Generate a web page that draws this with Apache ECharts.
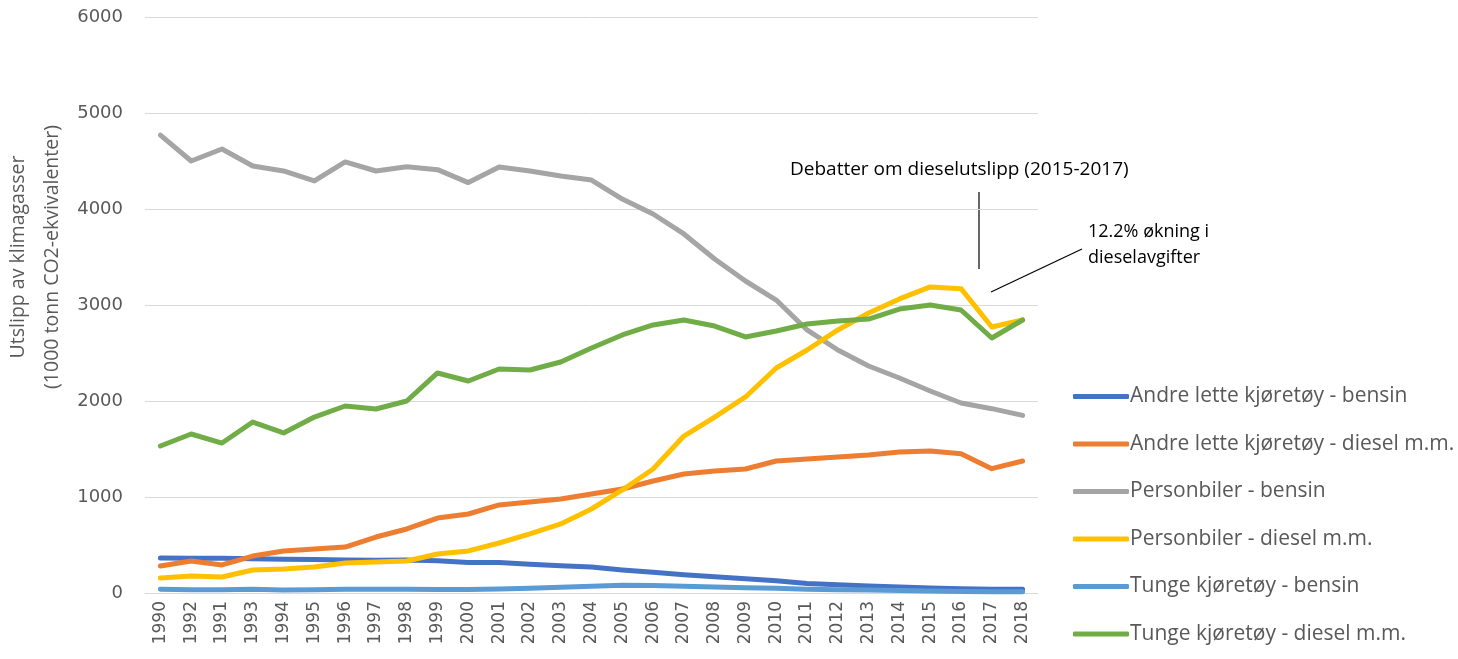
<!DOCTYPE html>
<html>
<head>
<meta charset="utf-8">
<script src="https://cdn.jsdelivr.net/npm/echarts@6/dist/echarts.min.js"></script>
<style>html,body{margin:0;padding:0;background:#fff;}#c{width:1458px;height:659px;}</style>
</head>
<body>
<div id="c"></div>
<script>
const years = ['1990','1992','1991','1993','1994','1995','1996','1997','1998','1999','2000','2001','2002','2003','2004','2005','2006','2007','2008','2009','2010','2011','2012','2013','2014','2015','2016','2017','2018'];
const seriesNames = ['Andre lette kjøretøy - bensin','Andre lette kjøretøy - diesel m.m.','Personbiler - bensin','Personbiler - diesel m.m.','Tunge kjøretøy - bensin','Tunge kjøretøy - diesel m.m.'];
const andreLetteBensin = [365,362,362,358,352,348,345,342,345,335,318,318,300,285,270,240,215,190,170,148,128,100,85,72,62,52,45,40,38];
const andreLetteDiesel = [281,333,292,385,438,458,479,583,667,781,823,917,948,979,1031,1083,1167,1240,1271,1292,1375,1396,1417,1438,1469,1479,1450,1295,1375];
const personbilerBensin = [4770,4500,4625,4448,4396,4292,4490,4396,4440,4410,4275,4437,4396,4344,4302,4104,3948,3740,3479,3250,3052,2740,2531,2365,2240,2104,1979,1920,1850];
const personbilerDiesel = [156,177,167,240,250,271,313,323,333,406,438,521,615,719,875,1073,1292,1635,1833,2042,2344,2531,2740,2917,3063,3188,3170,2771,2844];
const tungeBensin = [40,35,35,38,32,35,38,38,38,36,36,42,50,60,70,80,78,70,62,55,50,40,35,30,25,20,15,12,12];
const tungeDiesel = [1531,1656,1562,1781,1667,1833,1948,1917,2000,2292,2208,2333,2323,2406,2552,2688,2792,2844,2781,2667,2729,2802,2833,2854,2958,3000,2948,2656,2844];
const yTicks = [0,1000,2000,3000,4000,5000,6000];
const colors = ['#4472C4','#ED7D31','#A5A5A5','#FFC000','#5B9BD5','#70AD47'];
const allData = [andreLetteBensin, andreLetteDiesel, personbilerBensin, personbilerDiesel, tungeBensin, tungeDiesel];

const chart = echarts.init(document.getElementById('c'), null, {renderer:'canvas'});
const uiFont = 'Open Sans';
chart.setOption({
  animation:false,
  color: colors,
  grid:{left:145,right:420,top:17,bottom:66,containLabel:false},
  xAxis:{
    type:'category', data:years, boundaryGap:true,
    axisLine:{show:true,lineStyle:{color:'#d9d9d9',width:1}},
    axisTick:{show:false},
    axisLabel:{rotate:90,interval:0,fontFamily:'DejaVu Sans',fontSize:17,color:'#595959',margin:8}
  },
  yAxis:{
    type:'value', min:yTicks[0], max:yTicks[yTicks.length-1], interval:1000,
    axisLine:{show:false}, axisTick:{show:false},
    axisLabel:{fontFamily:'DejaVu Sans',fontSize:18,color:'#595959',margin:22,formatter:v=>String(v)},
    splitLine:{lineStyle:{color:'#d9d9d9',width:1}}
  },
  legend:{
    orient:'vertical', left:1068, top:381, itemGap:26.5,
    icon:'roundRect', itemWidth:56, itemHeight:5,
    textStyle:{fontFamily:uiFont,fontSize:21,color:'#595959',padding:[0,0,0,-4],lineHeight:21},
    data: seriesNames
  },
  graphic:[
    {type:'text',x:18,y:257,rotation:Math.PI/2,
     style:{text:'Utslipp av klimagasser',font:'19.5px "Open Sans"',fill:'#595959',align:'center',verticalAlign:'middle'}},
    {type:'text',x:52,y:257,rotation:Math.PI/2,
     style:{text:'(1000 tonn CO2-ekvivalenter)',font:'19.5px "Open Sans"',fill:'#595959',align:'center',verticalAlign:'middle'}},
    {type:'text',x:790,y:170,style:{text:'Debatter om dieselutslipp (2015-2017)',font:'19px "Open Sans"',fill:'#000',align:'left',verticalAlign:'middle'}},
    {type:'line',shape:{x1:979,y1:192,x2:979,y2:269},style:{stroke:'#000',lineWidth:1.2}},
    {type:'text',x:1088,y:232,style:{text:'12.2% økning i',font:'18px "Open Sans"',fill:'#000',align:'left',verticalAlign:'middle'}},
    {type:'text',x:1088,y:258,style:{text:'dieselavgifter',font:'18px "Open Sans"',fill:'#000',align:'left',verticalAlign:'middle'}},
    {type:'line',shape:{x1:991,y1:292,x2:1082,y2:249},style:{stroke:'#000',lineWidth:1.2}}
  ],
  series: seriesNames.map((n,i)=>({
    name:n, type:'line', data:allData[i], showSymbol:false, symbol:'none',
    lineStyle:{width:5,color:colors[i],cap:'round',join:'round'},
    itemStyle:{color:colors[i]}
  }))
});
</script>
</body>
</html>
